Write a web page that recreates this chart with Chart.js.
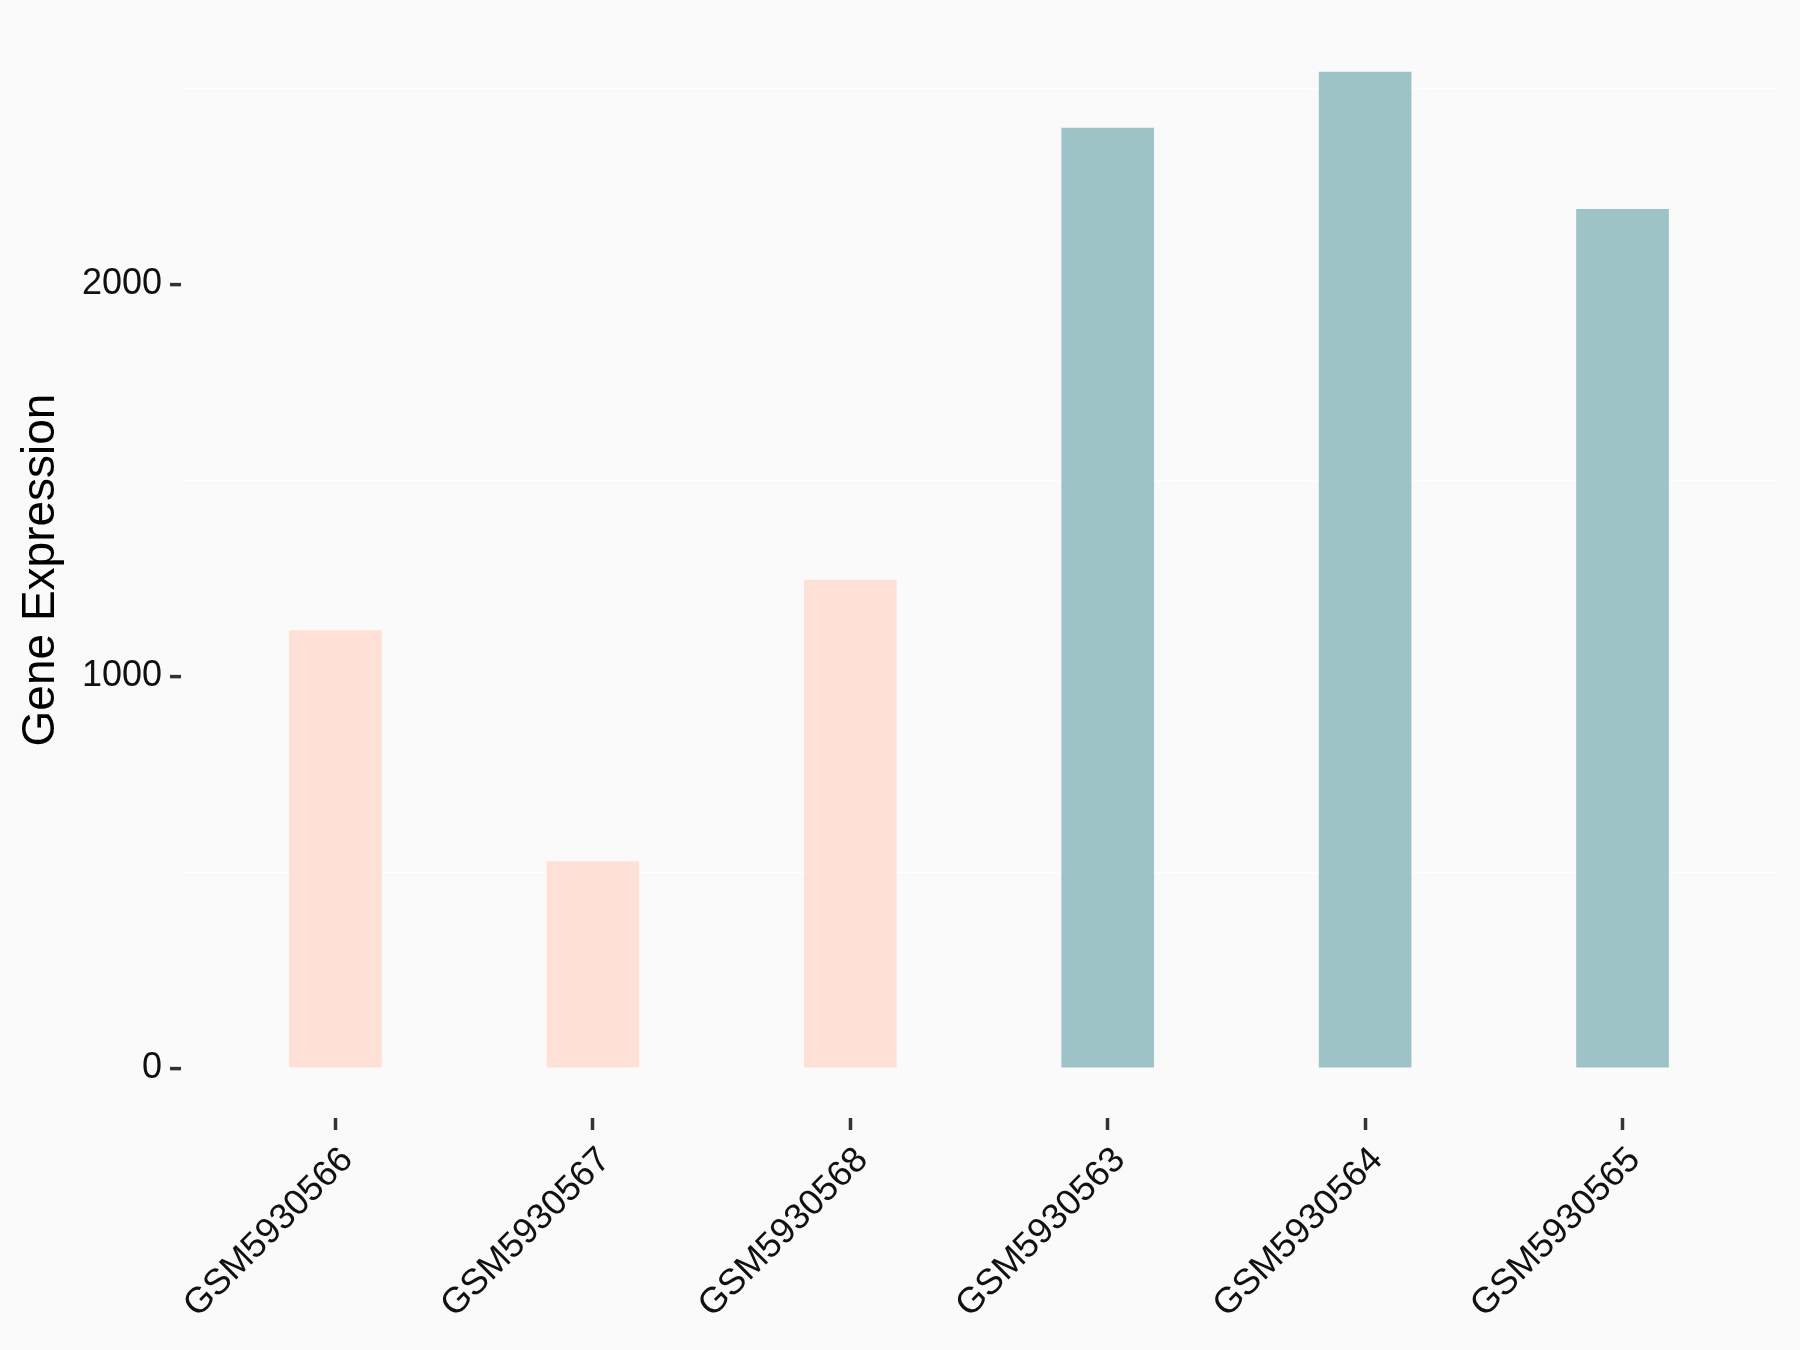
<!DOCTYPE html>
<html>
<head>
<meta charset="utf-8">
<script src="https://cdn.jsdelivr.net/npm/chart.js@4/dist/chart.umd.min.js"></script>
<style>
  html, body { margin: 0; padding: 0; background: #FAFAFA; }
  #wrap { width: 1800px; height: 1350px; }
</style>
</head>
<body>
<div id="wrap"><canvas id="myChart" width="1800" height="1350"></canvas></div>
<script>
// sample names, in plot order
const samples = ['GSM5930566', 'GSM5930567', 'GSM5930568', 'GSM5930563', 'GSM5930564', 'GSM5930565'];
// expression values
const expression = [1117, 528, 1246, 2399, 2542, 2192];
// group of each sample (decides bar colour)
const groups = ['a', 'a', 'a', 'b', 'b', 'b'];
const yTicks = [0, 500, 1000, 1500, 2000, 2500];

const groupColors = { a: '#FFE0D6', b: '#9DC3C7' };
const FONT = 'Liberation Sans, Arial, sans-serif';

function renderChart() {
  const ctx = document.getElementById('myChart');

  new Chart(ctx, {
    type: 'bar',
    data: {
      datasets: [{
        label: 'Gene Expression',
        data: expression.map((v, i) => ({ x: i + 1, y: v })),
        backgroundColor: groups.map(g => groupColors[g]),
        borderWidth: 0,
        categoryPercentage: 1,
        barPercentage: 0.36
      }]
    },
    options: {
      responsive: false,
      animation: false,
      layout: { padding: { top: 22, right: 23, left: 0, bottom: 0 } },
      plugins: {
        legend: { display: false },
        tooltip: { enabled: false }
      },
      scales: {
        x: {
          type: 'linear',
          min: 0.4,
          max: 6.6,
          offset: false,
          afterBuildTicks: axis => {
            axis.ticks = samples.map((s, i) => ({ value: i + 1 }));
          },
          afterFit: axis => { axis.height = 232; },
          border: { display: false },
          grid: {
            offset: false,
            drawOnChartArea: false,
            tickLength: 12,
            tickColor: '#333333',
            tickWidth: 3.5
          },
          ticks: {
            autoSkip: false,
            minRotation: 45,
            maxRotation: 45,
            padding: 9,
            labelOffset: 12,
            color: '#111111',
            font: { family: FONT, size: 36 },
            callback: v => samples[v - 1]
          }
        },
        y: {
          min: -127,
          max: 2669,
          afterBuildTicks: axis => {
            axis.ticks = yTicks.map(v => ({ value: v }));
          },
          afterFit: axis => {
            axis.width = 181;
            // labels sit well inside the panel, no extra room needed
            axis.paddingTop = 0;
            axis.paddingBottom = 0;
          },
          border: { display: false },
          grid: {
            color: c => (c.tick && c.tick.value % 1000 !== 0) ? '#FFFFFF' : 'rgba(0,0,0,0)',
            lineWidth: 1.2,
            tickLength: 11,
            tickColor: c => (c.tick && c.tick.value % 1000 === 0) ? '#333333' : 'rgba(0,0,0,0)',
            tickWidth: 3.5
          },
          ticks: {
            padding: 8,
            color: '#111111',
            font: { family: FONT, size: 36 },
            callback: v => (v % 1000 === 0 ? String(v) : '')
          },
          title: {
            display: true,
            text: 'Gene Expression',
            color: '#000000',
            font: { family: FONT, size: 46 },
            padding: { top: 14, bottom: 0 }
          }
        }
      }
    }
  });
}

renderChart();
</script>
</body>
</html>
